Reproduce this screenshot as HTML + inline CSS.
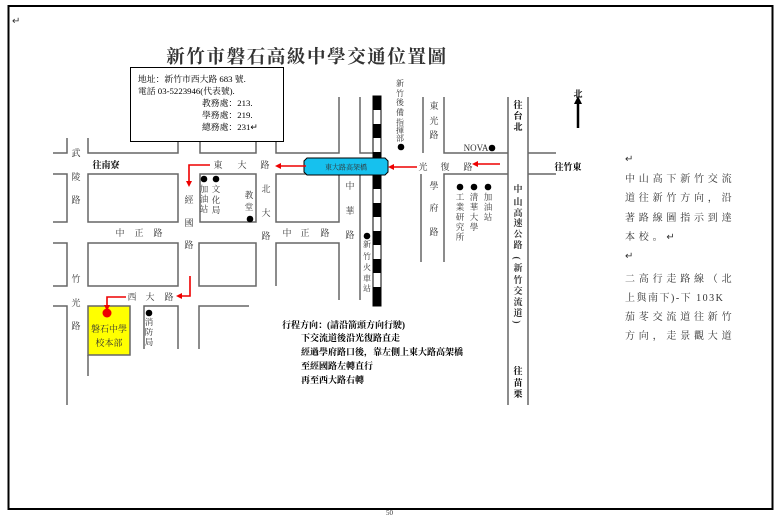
<!DOCTYPE html>
<html><head><meta charset="utf-8"><style>
html,body{margin:0;padding:0;background:#fff;}
svg{display:block;}
text{font-family:"Liberation Serif","Noto Serif CJK SC","Noto Sans CJK TC",serif;fill:#333;}
.s{font-size:9px;text-anchor:middle;}
.b{font-weight:bold;fill:#000;}
</style></head><body>
<svg width="779" height="515" viewBox="0 0 779 515" xmlns="http://www.w3.org/2000/svg">
<rect x="8.5" y="6" width="764" height="503" fill="none" stroke="#000" stroke-width="2"/>
<text x="12" y="24" font-size="10" fill="#888">↵</text>
<text x="386" y="515" font-size="7" fill="#888">50</text>

<text x="307" y="63" text-anchor="middle" font-size="18.5" font-weight="bold" fill="#000" letter-spacing="1.6">新竹市磐石高級中學交通位置圖</text>

<g fill="none" stroke="#666" stroke-width="1.5">
<polyline points="53,153 67,153 67,138"/>
<polyline points="88,138 88,153 178,153 178,138"/>
<polyline points="200,97 200,153 256,153 256,97"/>
<polyline points="276,97 276,153 339,153 339,97"/>
<polyline points="360,97 360,153 373,153"/>
<line x1="423" y1="97" x2="423" y2="153"/>
<polyline points="444,97 444,153 508,153"/>
<line x1="508" y1="97" x2="508" y2="405"/>
<line x1="528" y1="97" x2="528" y2="405"/>
<line x1="528" y1="153" x2="556" y2="153"/>
<line x1="528" y1="174" x2="556" y2="174"/>
<polyline points="444,262 444,174 508,174"/>
<line x1="421" y1="174" x2="421" y2="262"/>
<polyline points="53,174 67,174 67,222 53,222"/>
<rect x="88" y="174" width="90" height="48"/>
<rect x="200" y="174" width="56" height="48"/>
<rect x="276" y="174" width="63" height="48"/>
<polyline points="373,174 360,174 360,300"/>
<polyline points="53,243 67,243 67,286 53,286"/>
<rect x="88" y="243" width="90" height="43"/>
<rect x="199" y="243" width="57" height="43"/>
<polyline points="276,286 276,243 339,243 339,300"/>
<polyline points="53,306 67,306 67,405"/>
<line x1="88" y1="355" x2="88" y2="376"/>
<polyline points="144,349 144,306 178,306 178,349"/>
<polyline points="199,349 199,306 249,306"/>
</g>

<rect x="373" y="96" width="8" height="210" fill="#fff" stroke="#000" stroke-width="1"/>
<g fill="#000">
<rect x="373" y="96" width="8" height="14"/><rect x="373" y="124" width="8" height="14"/>
<rect x="373" y="152" width="8" height="6"/><rect x="373" y="175" width="8" height="14"/>
<rect x="373" y="203" width="8" height="14"/><rect x="373" y="231" width="8" height="14"/>
<rect x="373" y="259" width="8" height="14"/><rect x="373" y="287" width="8" height="19"/>
</g>

<path d="M307,158 L385,158 L388,161 L388,172 L385,175 L307,175 L304,172 L304,161 Z" fill="#16c1ee" stroke="#000" stroke-width="1"/>
<text x="346" y="169.5" font-size="7" text-anchor="middle" fill="#000">東大路高架橋</text>

<rect x="88" y="306" width="42" height="49" fill="#ffff00" stroke="#666" stroke-width="1.5"/>
<text x="109" y="332" class="s" fill="#444" font-size="8.5">磐石中學</text>
<text x="109" y="346" class="s" fill="#444" font-size="8.5">校本部</text>

<g stroke="#e00" stroke-width="1.6" fill="none">
<line x1="306" y1="166" x2="279" y2="166"/>
<polyline points="210,165 189,165 189,183"/>
<line x1="500" y1="164" x2="476" y2="164"/>
<line x1="417" y1="167" x2="392" y2="167"/>
<polyline points="190,276 190,296 180,296"/>
<polyline points="126,297 107,297 107,307"/>
</g>
<g fill="#e00">
<polygon points="275,166 281,163 281,169"/>
<polygon points="189,187 186,181 192,181"/>
<polygon points="472,164 478,161 478,167"/>
<polygon points="388,167 394,164 394,170"/>
<polygon points="176,296 182,293 182,299"/>
<polygon points="107,311 104,305 110,305"/>
<circle cx="107" cy="313" r="4.5"/>
</g>

<line x1="578" y1="103" x2="578" y2="128" stroke="#000" stroke-width="2.5"/>
<polygon points="578,96 574,104 582,104" fill="#000"/>
<text x="578" y="97" class="s b" font-size="10">北</text>

<g fill="#000">
<circle cx="204" cy="179" r="3.3"/><circle cx="216" cy="179" r="3.3"/>
<circle cx="250" cy="219" r="3.3"/><circle cx="367" cy="236" r="3.3"/>
<circle cx="401" cy="147" r="3.3"/><circle cx="492" cy="148" r="3.3"/>
<circle cx="460" cy="187" r="3.3"/><circle cx="474" cy="187" r="3.3"/>
<circle cx="488" cy="187" r="3.3"/><circle cx="149" cy="313" r="3.3"/>
</g>

<g class="s">
<text x="76 76 76" y="156 180 203">武陵路</text>
<text x="76 76 76" y="282 306 329">竹光路</text>
<text x="218 242 265" y="168 168 168">東大路</text>
<text x="189 189 189" y="203 226 248">經國路</text>
<text x="204 204 204" y="192 202 212" font-size="8.5">加油站</text>
<text x="216 216 216" y="192 203 213" font-size="8.5">文化局</text>
<text x="249 249" y="198 210" font-size="8.5">教堂</text>
<text x="266 266 266" y="192 216 239">北大路</text>
<text x="120 139 158" y="236 236 236">中正路</text>
<text x="287 305 325" y="236 236 236">中正路</text>
<text x="350 350 350" y="189 214 238">中華路</text>
<text x="367 367 367 367 367" y="247 259 270 281 291" font-size="8">新竹火車站</text>
<text x="400 400 400 400 400 400 400" y="86 96 105 115 125 133 141" font-size="8">新竹後備指揮部</text>
<text x="434 434 434" y="109 124 138">東光路</text>
<text x="423 445 468" y="170 170 170">光復路</text>
<text x="434 434 434" y="189 211 235">學府路</text>
<text x="460 460 460 460 460" y="200 210 220 230 240" font-size="8.5">工業研究所</text>
<text x="474 474 474 474" y="200 210 220 230" font-size="8.5">清華大學</text>
<text x="488 488 488" y="200 210 220" font-size="8.5">加油站</text>
<text x="132 150 169" y="300 300 300">西大路</text>
<text x="149 149 149" y="325 335 345" font-size="8.5">消防局</text>
</g>
<text x="476" y="151" font-size="9" text-anchor="middle" fill="#333">NOVA</text>
<text x="106" y="168" class="s b" font-size="8.5">往南寮</text>
<text x="568" y="170" class="s b" font-size="8.5">往竹東</text>
<text x="518 518 518" y="108 119 130" class="s b" font-size="10">往台北</text>
<g class="s b" font-size="10">
<text x="518" y="192">中</text>
<text x="518" y="205">山</text>
<text x="518" y="216">高</text>
<text x="518" y="226">速</text>
<text x="518" y="237">公</text>
<text x="518" y="248">路</text>
<text x="518" y="262" transform="rotate(90 518 258)">(</text>
<text x="518" y="271">新</text>
<text x="518" y="283">竹</text>
<text x="518" y="294">交</text>
<text x="518" y="305">流</text>
<text x="518" y="316">道</text>
<text x="518" y="326" transform="rotate(90 518 322)">)</text>
</g>
<text x="518 518 518" y="374 386 397" class="s b" font-size="9.5">往苗栗</text>

<rect x="130.5" y="67.5" width="153" height="74" fill="#fff" stroke="#000" stroke-width="1"/>
<g font-size="8.8">
<text x="138" y="82" style="fill:#000">地址：新竹市西大路 683 號.</text>
<text x="138" y="94" style="fill:#000">電話 03-5223946(代表號).</text>
<text x="202" y="106" style="fill:#000">教務處：213.</text>
<text x="202" y="118" style="fill:#000">學務處：219.</text>
<text x="202" y="130" style="fill:#000">總務處：231↵</text>
</g>

<g font-size="9" font-weight="bold">
<text x="282" y="328" style="fill:#000">行程方向：(請沿箭頭方向行駛)</text>
<text x="301" y="341" style="fill:#000">下交流道後沿光復路直走</text>
<text x="301" y="355" style="fill:#000">經過學府路口後，靠左側上東大路高架橋</text>
<text x="301" y="369" style="fill:#000">至經國路左轉直行</text>
<text x="301" y="383" style="fill:#000">再至西大路右轉</text>
</g>

<g font-size="10" letter-spacing="3.8">
<text x="625" y="162" fill="#888">↵</text>
<text x="625" y="182">中山高下新竹交流</text>
<text x="625" y="201">道往新竹方向，沿</text>
<text x="625" y="221">著路線圖指示到達</text>
<text x="625" y="240">本校。↵</text>
<text x="625" y="259" fill="#888">↵</text>
<text x="625" y="282">二高行走路線（北</text>
<text x="625" y="301" letter-spacing="1.5">上與南下)-下 103K</text>
<text x="625" y="320">茄苳交流道往新竹</text>
<text x="625" y="339">方向，走景觀大道</text>
</g>
</svg>
</body></html>
